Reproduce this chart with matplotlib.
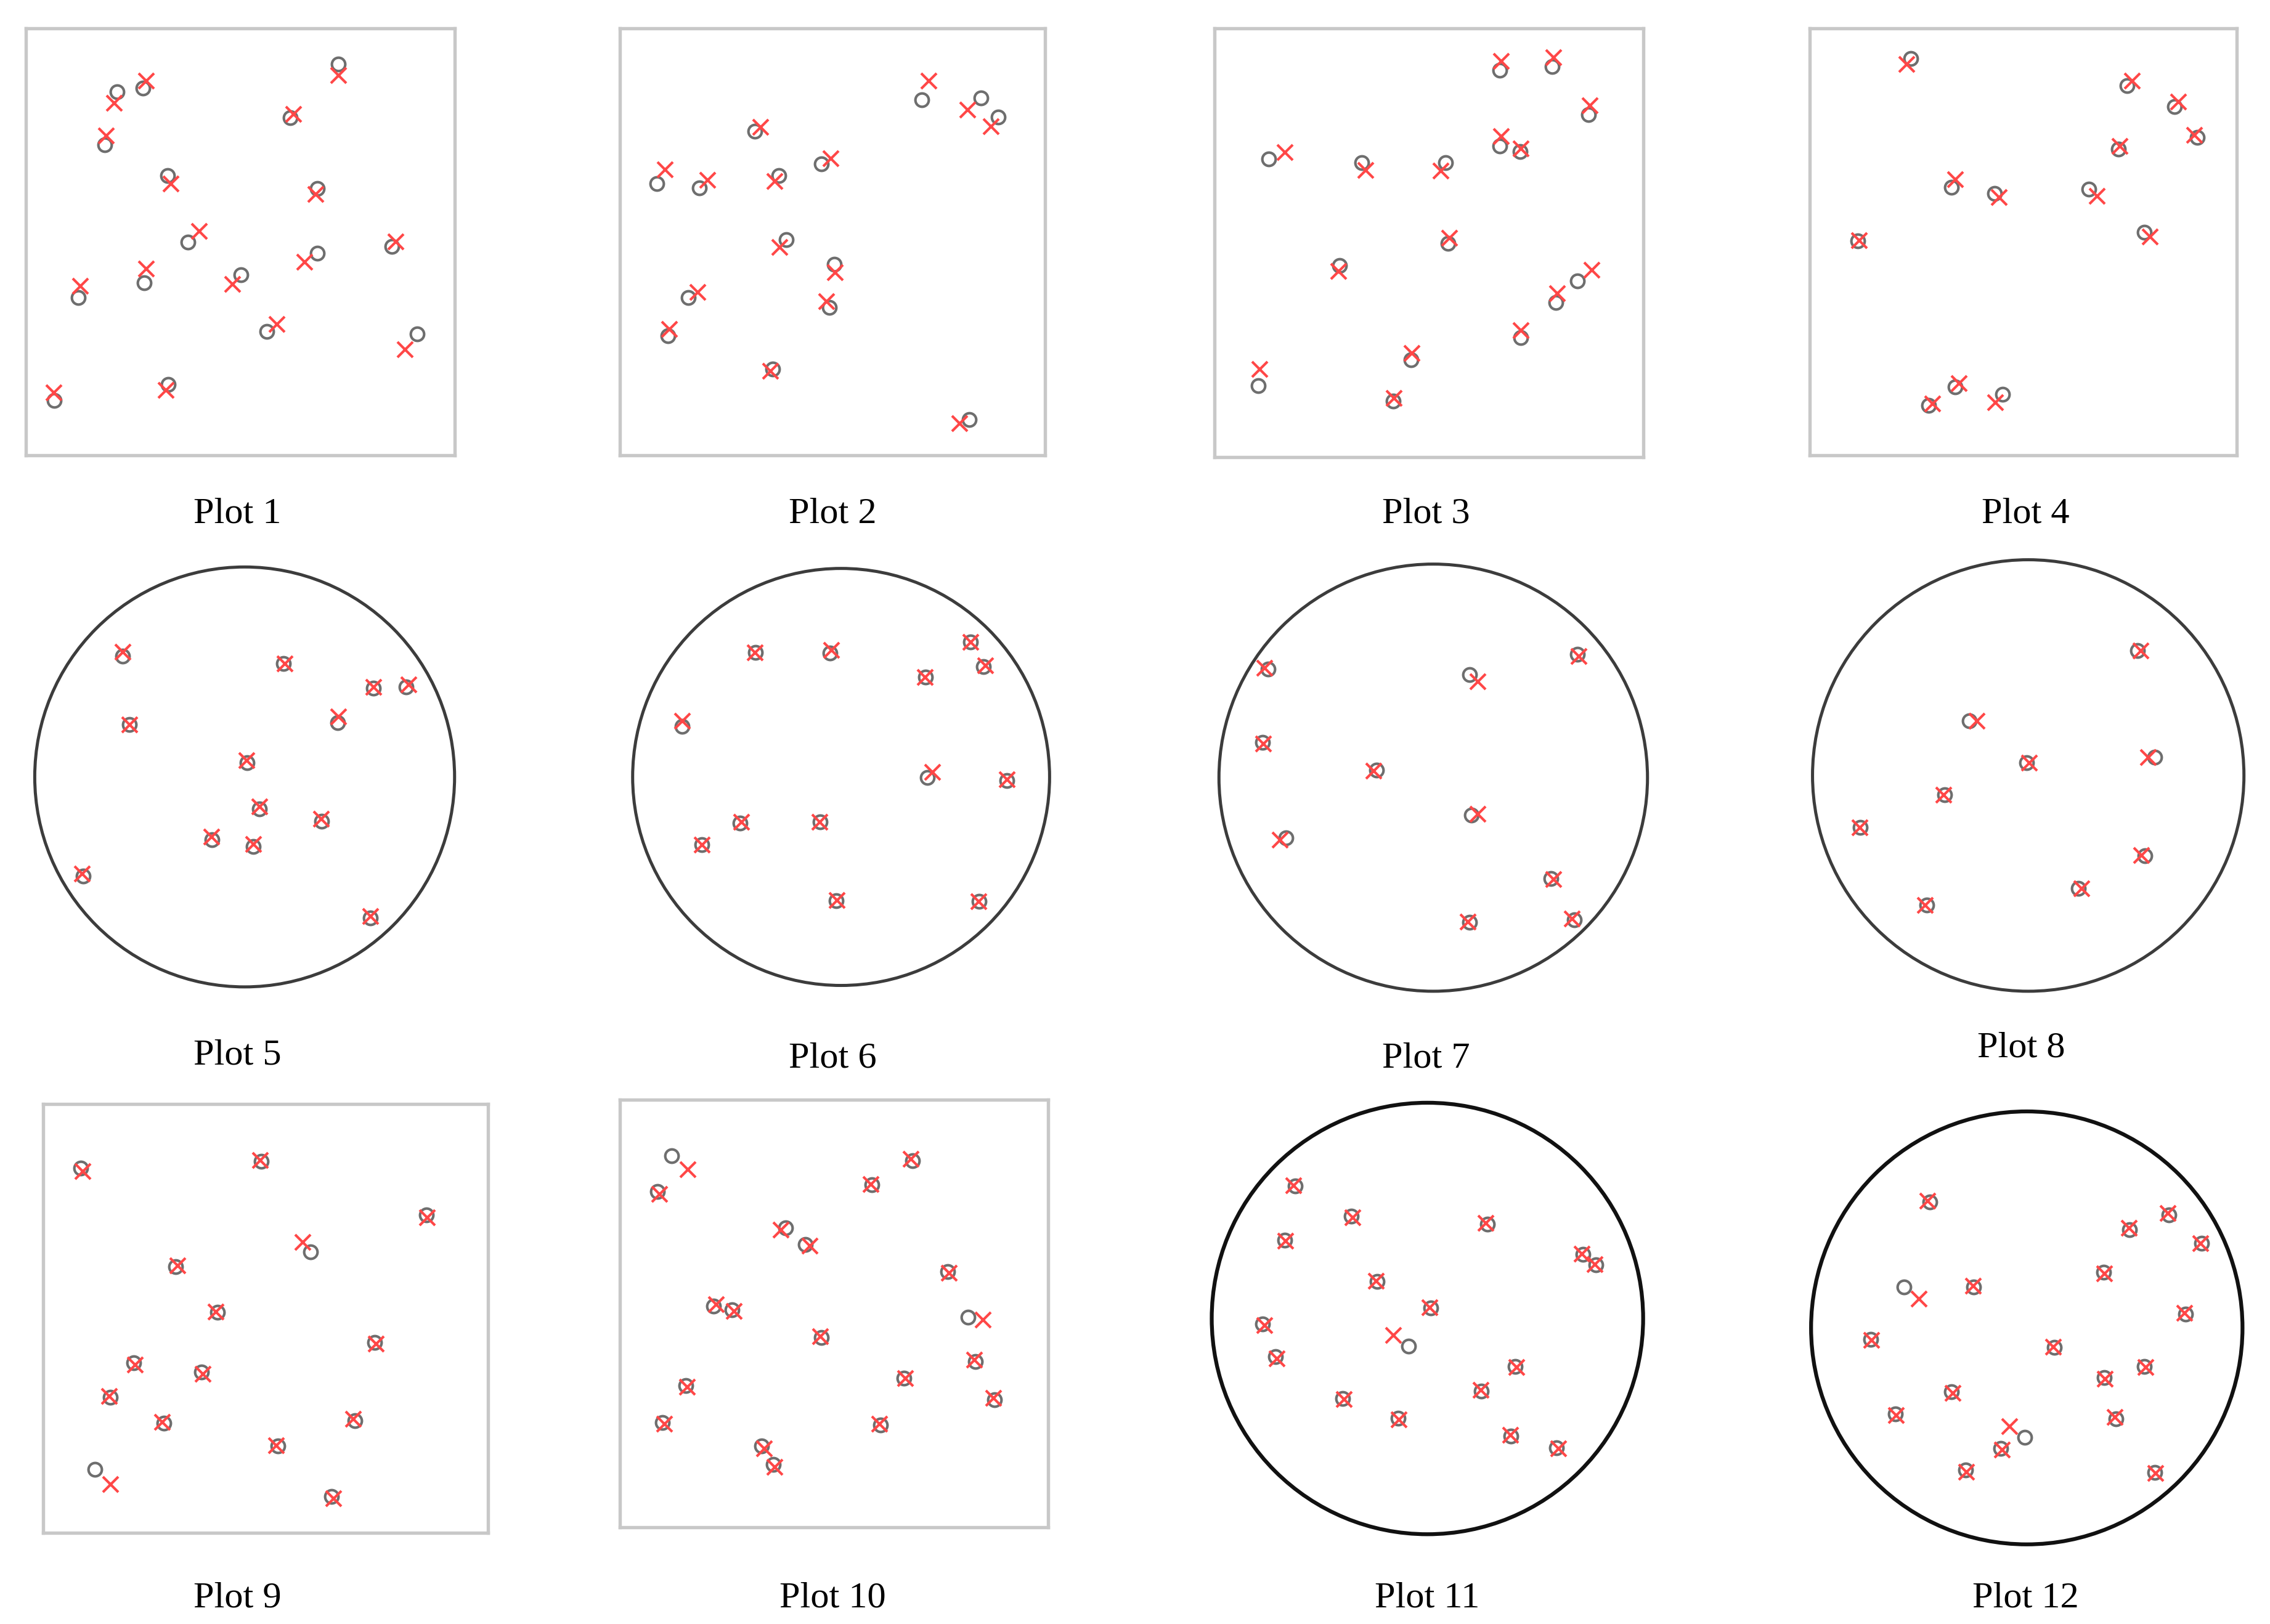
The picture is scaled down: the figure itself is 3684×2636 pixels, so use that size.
import matplotlib
matplotlib.use('Agg')
from matplotlib import pyplot as plt
from matplotlib.patches import Circle

# point positions, 0-100 inside each panel's frame, y measured from the top
p1_o = [(21.2, 14.9), (27.3, 14.0), (72.9, 8.3), (61.7, 20.9), (18.4, 27.2), (33.0, 34.5), (67.9, 37.5), (37.8, 50.1), (85.4, 51.1),
        (67.9, 52.7), (50.1, 57.7), (27.5, 59.6), (12.2, 63.0), (56.2, 70.9), (91.3, 71.5), (6.6, 87.1), (33.2, 83.3)]
p1_x = [(20.5, 17.4), (28.0, 12.3), (72.8, 10.9), (62.4, 20.0), (18.6, 25.1), (33.7, 36.3), (67.5, 38.8), (40.4, 47.5), (86.3, 49.9),
        (65.0, 54.7), (48.1, 59.8), (28.0, 56.3), (12.6, 60.3), (58.5, 69.3), (88.4, 75.1), (6.4, 85.2), (32.6, 84.7)]

p2_o = [(71.0, 16.7), (84.9, 16.3), (89.0, 20.7), (31.7, 24.1), (47.4, 31.8), (8.8, 36.4), (18.8, 37.3), (37.4, 34.4),
        (39.2, 49.5), (50.4, 55.3), (16.1, 63.1), (49.3, 65.4), (11.4, 71.9), (35.9, 79.7), (82.1, 91.6)]
p2_x = [(72.6, 12.3), (81.7, 19.1), (87.2, 22.9), (33.1, 23.1), (49.6, 30.4), (10.6, 33.1), (20.6, 35.5), (36.4, 35.7),
        (37.5, 51.2), (50.6, 57.1), (18.3, 61.8), (48.5, 63.9), (11.7, 70.4), (35.4, 80.2), (79.9, 92.4)]

p3_o = [(66.5, 9.8), (78.7, 8.9), (87.3, 20.1), (66.6, 27.4), (71.3, 28.8), (12.6, 30.5), (34.3, 31.3), (53.9, 31.3),
        (54.4, 50.2), (29.2, 55.3), (84.6, 58.9), (79.7, 63.9), (71.4, 72.2), (45.8, 77.4), (10.2, 83.3), (41.7, 86.9)]
p3_x = [(66.9, 7.6), (79.0, 6.7), (87.5, 17.9), (66.9, 25.2), (71.5, 28.0), (16.3, 28.9), (35.2, 33.1), (52.7, 33.2),
        (54.7, 48.9), (28.9, 56.6), (87.9, 56.3), (79.9, 61.8), (71.5, 70.5), (46.0, 75.8), (10.4, 79.5), (41.8, 86.3)]

p4_o = [(23.7, 7.1), (74.3, 13.4), (85.4, 18.3), (90.7, 25.6), (72.3, 28.2), (33.2, 37.2), (43.3, 38.7),
        (65.4, 37.7), (78.3, 47.7), (11.3, 49.8), (34.0, 83.9), (27.8, 88.2), (45.2, 85.7)]
p4_x = [(22.7, 8.3), (75.5, 12.3), (86.3, 17.1), (90.1, 24.9), (72.6, 27.6), (34.0, 35.4), (44.3, 39.5),
        (67.3, 39.2), (79.6, 48.8), (11.5, 49.6), (34.9, 83.1), (28.8, 87.8), (43.5, 87.5)]

p5_o = [(20.9, 21.3), (59.3, 23.0), (80.6, 28.8), (88.5, 28.6), (22.5, 37.5), (72.1, 37.1), (50.6, 46.6),
        (53.5, 57.6), (68.4, 60.6), (42.2, 65.0), (52.0, 66.6), (11.6, 73.6), (79.9, 83.6)]
p5_x = [(20.9, 20.2), (59.5, 23.0), (80.7, 28.5), (89.0, 28.0), (22.5, 37.5), (72.3, 35.6), (50.5, 46.0),
        (53.5, 57.0), (68.2, 60.0), (42.0, 64.2), (52.0, 66.0), (11.2, 73.0), (79.9, 83.1)]

p6_o = [(29.5, 20.2), (47.4, 20.3), (81.1, 17.6), (84.1, 23.5), (70.2, 26.1), (11.9, 37.8), (70.7, 50.1),
        (89.7, 50.8), (25.8, 61.0), (45.0, 60.7), (16.6, 66.3), (48.8, 79.7), (83.1, 79.9)]
p6_x = [(29.3, 20.2), (47.7, 19.5), (81.0, 17.6), (84.6, 23.2), (70.1, 26.1), (11.9, 36.6), (71.9, 48.8),
        (89.7, 50.6), (26.0, 60.8), (44.8, 60.7), (16.6, 66.3), (49.0, 79.5), (83.0, 79.9)]

p7_o = [(11.4, 24.6), (58.5, 25.9), (83.6, 21.1), (10.1, 41.8), (36.8, 48.2), (58.9, 58.7), (15.7, 64.1),
        (77.5, 73.6), (58.5, 83.8), (83.0, 83.3)]
p7_x = [(10.6, 24.3), (60.3, 27.5), (84.0, 21.5), (10.3, 42.0), (36.1, 48.4), (60.3, 58.4), (14.2, 64.6),
        (78.1, 73.8), (58.0, 83.7), (82.3, 83.0)]

p8_o = [(75.4, 21.1), (36.3, 37.4), (49.6, 47.0), (79.3, 45.8), (30.6, 54.5), (11.0, 62.0), (77.0, 68.6), (61.6, 76.2), (26.5, 80.0)]
p8_x = [(76.0, 21.0), (38.1, 37.4), (50.2, 47.0), (77.7, 45.8), (30.4, 54.5), (10.9, 62.0), (76.2, 68.4), (62.4, 76.2), (26.0, 80.0)]

p9_o = [(8.4, 14.9), (49.0, 13.4), (86.1, 25.9), (60.1, 34.5), (29.8, 37.9), (39.1, 48.6), (74.5, 55.6), (20.3, 60.4),
        (35.6, 62.5), (15.0, 68.4), (27.1, 74.4), (70.1, 73.9), (52.8, 79.8), (11.6, 85.2), (64.8, 91.6)]
p9_x = [(8.8, 15.6), (48.7, 13.0), (86.3, 26.4), (58.3, 32.1), (30.1, 37.6), (38.7, 48.4), (74.8, 55.9), (20.6, 60.8),
        (35.8, 62.9), (14.7, 68.1), (26.7, 74.1), (69.6, 73.4), (52.4, 79.6), (15.0, 88.6), (65.2, 91.9)]

p10_o = [(12.2, 13.1), (8.9, 21.4), (68.4, 14.2), (58.8, 19.9), (38.7, 30.0), (43.4, 33.9), (76.6, 40.2), (21.9, 48.3),
         (26.3, 49.2), (47.1, 55.6), (81.3, 50.9), (83.1, 61.2), (66.3, 65.1), (87.5, 70.2), (15.5, 66.9), (10.0, 75.6),
         (60.9, 76.1), (33.2, 81.1), (35.8, 85.4)]
p10_x = [(15.9, 16.2), (9.3, 22.0), (68.0, 13.8), (58.6, 19.7), (37.6, 30.4), (44.4, 34.1), (76.8, 40.5), (22.5, 47.9),
         (26.7, 49.5), (46.8, 55.3), (84.8, 51.5), (82.8, 60.9), (66.6, 65.2), (87.2, 69.8), (15.8, 67.2), (10.4, 75.9),
         (60.6, 75.9), (33.7, 81.6), (36.1, 85.9)]

p11_o = [(19.3, 19.3), (32.4, 26.3), (16.9, 31.8), (63.9, 28.2), (86.0, 35.1), (89.1, 37.5), (38.4, 41.4), (50.8, 47.6),
         (11.8, 51.3), (45.6, 56.4), (14.8, 58.9), (70.3, 61.1), (62.5, 66.9), (30.4, 68.5), (43.2, 73.1), (69.3, 77.2), (79.9, 79.9)]
p11_x = [(18.9, 19.1), (32.7, 26.5), (17.1, 32.0), (63.5, 27.9), (85.7, 35.0), (88.8, 37.4), (38.1, 41.3), (50.5, 47.4),
         (12.2, 51.5), (42.0, 53.8), (15.1, 59.2), (70.6, 61.2), (62.3, 66.6), (30.6, 68.7), (43.4, 73.4), (69.2, 77.0), (80.4, 80.1)]

p12_o = [(27.5, 20.9), (82.9, 23.9), (73.8, 27.3), (90.5, 30.5), (67.8, 37.2), (21.5, 40.5), (37.7, 40.6), (86.8, 46.8),
         (13.8, 52.6), (56.4, 54.5), (77.3, 58.9), (68.0, 61.5), (32.6, 64.8), (19.5, 69.9), (70.6, 71.0), (49.6, 75.3),
         (44.0, 77.9), (35.8, 82.8), (79.6, 83.4)]
p12_x = [(27.0, 20.6), (82.6, 23.5), (73.6, 26.9), (90.2, 30.4), (67.9, 37.4), (24.9, 43.3), (37.5, 40.3), (86.5, 46.6),
         (14.0, 52.8), (56.1, 54.3), (77.5, 59.1), (68.1, 61.8), (32.8, 65.1), (19.7, 70.1), (70.4, 70.6), (46.0, 72.7),
         (44.2, 78.1), (36.0, 83.2), (79.8, 83.5)]

titles = ['Plot %d' % i for i in range(1, 13)]
shapes = ['square'] * 4 + ['circle'] * 4 + ['square', 'square', 'circle', 'circle']

all_o = [p1_o, p2_o, p3_o, p4_o, p5_o, p6_o, p7_o, p8_o, p9_o, p10_o, p11_o, p12_o]
all_x = [p1_x, p2_x, p3_x, p4_x, p5_x, p6_x, p7_x, p8_x, p9_x, p10_x, p11_x, p12_x]

# panel frames in pixels of a 1568x1122 page (left, top, right, bottom)
frames = [(18, 20, 314, 315), (428, 20, 722, 315), (839, 20, 1135, 316), (1250, 20, 1545, 315),
          (24, 392, 314, 682), (437, 393, 725, 681), (842, 390, 1138, 685), (1252, 387, 1550, 685),
          (30, 763, 337, 1059), (428, 760, 724, 1055), (837, 762, 1135, 1060), (1251, 768, 1549, 1067)]
label_pos = [(164, 355), (575, 355), (985, 355), (1399, 355),
             (164, 729), (575, 731), (985, 731), (1396, 724),
             (164, 1104), (575, 1104), (986, 1104), (1399, 1104)]

W, H = 1568.0, 1122.0

fig = plt.figure(figsize=(12.28, 8.79), dpi=300)

for i in range(12):
	l, t, r, b = frames[i]
	ax = fig.add_axes([l / W, 1 - b / H, (r - l) / W, (b - t) / H])
	ax.set_xlim(0, 100)
	ax.set_ylim(100, 0)
	ax.set_xticks([])
	ax.set_yticks([])

	if shapes[i] == 'square':
		for s in ax.spines.values():
			s.set_color('#c8c8c8')
			s.set_linewidth(1.3)
	else:
		for s in ax.spines.values():
			s.set_visible(False)
		ax.patch.set_visible(False)
		edge = '#3c3c3c' if i < 8 else '#111111'
		lw = 1.2 if i < 8 else 1.5
		ax.add_patch(Circle((50, 50), 50, fill=False, edgecolor=edge, linewidth=lw, clip_on=False))

	ox = [p[0] for p in all_o[i]]
	oy = [p[1] for p in all_o[i]]
	xx = [p[0] for p in all_x[i]]
	xy = [p[1] for p in all_x[i]]

	ax.plot(ox, oy, linestyle='none', marker='o', markersize=5.2, markerfacecolor='none',
			markeredgecolor='#6e6e6e', markeredgewidth=1.0, clip_on=False)
	ax.plot(xx, xy, linestyle='none', marker='x', markersize=6, color='#ff4747',
			markeredgewidth=1.0, clip_on=False)

	lx, ly = label_pos[i]
	fig.text(lx / W, 1 - ly / H, titles[i], ha='center', va='center',
			 fontsize=14.5, family='Liberation Serif', color='black')

fig.savefig('out.png', dpi=300)
